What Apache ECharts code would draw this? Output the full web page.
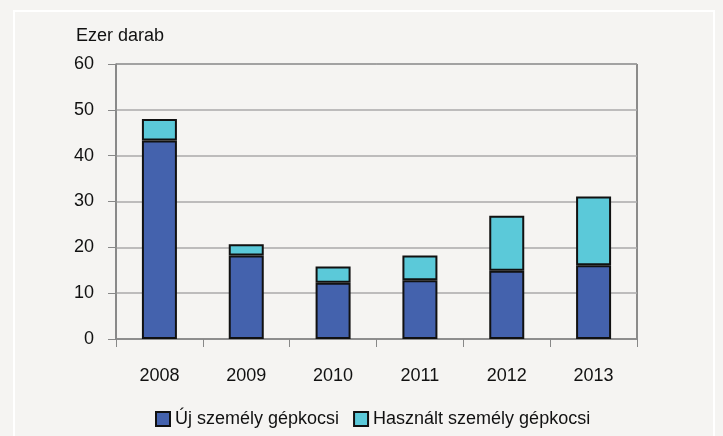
<!DOCTYPE html>
<html>
<head>
<meta charset="utf-8">
<script src="https://cdn.jsdelivr.net/npm/echarts@6/dist/echarts.min.js"></script>
<style>
  html, body { margin: 0; padding: 0; background: #f5f4f2; }
  #chart { width: 723px; height: 436px; }
</style>
</head>
<body>
<div id="chart"></div>
<script>
const years = ['2008', '2009', '2010', '2011', '2012', '2013']
const ujSzemely = [43.3, 18.2, 12.3, 12.8, 14.9, 16.1]
const hasznaltSzemely = [4.7, 2.5, 3.5, 5.4, 12.0, 15.0]

const chart = echarts.init(document.getElementById('chart'))
const font = 'Liberation Sans, Arial, sans-serif'

const option = {
  backgroundColor: '#f5f4f2',
  animation: false,
  textStyle: { fontFamily: font },
  graphic: [
    {
      type: 'rect',
      shape: { x: 14, y: 11, width: 700, height: 440 },
      style: { fill: 'none', stroke: '#ffffff', lineWidth: 2 },
      z: -1
    },
    {
      type: 'text',
      left: 76,
      top: 27,
      style: { text: 'Ezer darab', fill: '#111', font: '18px ' + font }
    }
  ],
  grid: {
    left: 116,
    right: 86,
    top: 64,
    bottom: 97,
    show: true,
    borderColor: '#222',
    borderWidth: 1,
    backgroundColor: 'transparent'
  },
  legend: {
    bottom: 3,
    left: 150,
    itemWidth: 14,
    itemHeight: 14,
    itemGap: 14,
    icon: 'rect',
    textStyle: { fontSize: 18, color: '#111', fontFamily: font },
    data: ['Új személy gépkocsi', 'Használt személy gépkocsi']
  },
  xAxis: {
    type: 'category',
    data: years,
    axisLine: { lineStyle: { color: '#888', width: 1.5 } },
    axisTick: { show: true, length: 8, lineStyle: { color: '#888' } },
    axisLabel: { fontSize: 18, color: '#111', margin: 28, fontFamily: font }
  },
  yAxis: {
    type: 'value',
    min: 0,
    max: 60,
    interval: 10,
    axisLine: { show: true, lineStyle: { color: '#888', width: 1.5 } },
    axisTick: { show: true, length: 8, lineStyle: { color: '#888' } },
    axisLabel: { fontSize: 18, color: '#111', margin: 22, fontFamily: font },
    splitLine: { lineStyle: { color: '#aaa', width: 1.5 } }
  },
  series: [
    {
      name: 'Új személy gépkocsi',
      type: 'bar',
      stack: 'total',
      data: ujSzemely,
      barWidth: 35,
      itemStyle: { color: '#4462ad', borderColor: '#111', borderWidth: 2 }
    },
    {
      name: 'Használt személy gépkocsi',
      type: 'bar',
      stack: 'total',
      data: hasznaltSzemely,
      barWidth: 35,
      itemStyle: { color: '#5bc9d9', borderColor: '#111', borderWidth: 2 }
    }
  ]
}

chart.setOption(option)
</script>
</body>
</html>
